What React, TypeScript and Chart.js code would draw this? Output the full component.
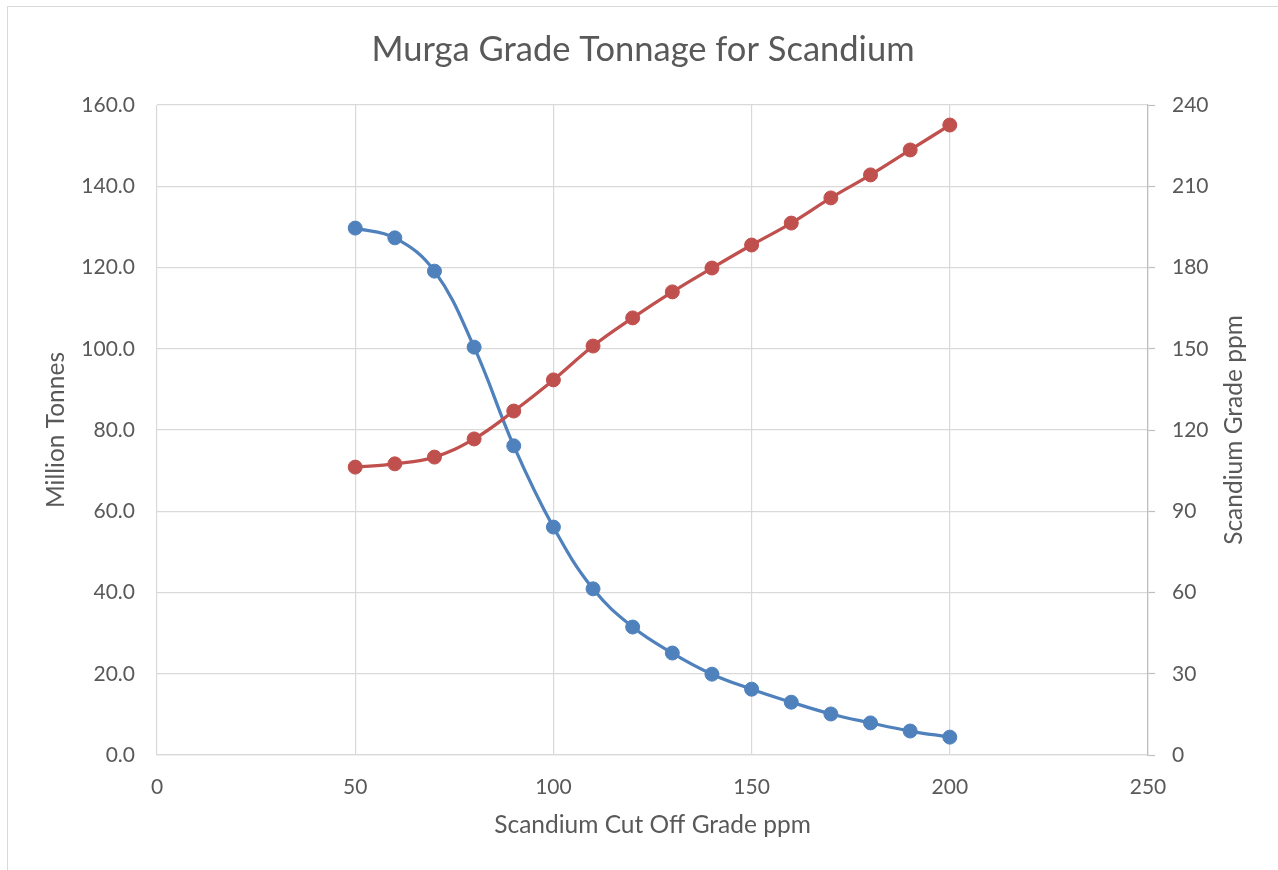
import React, { useEffect, useRef } from "react";
import { Chart, registerables } from "chart.js";

Chart.register(...registerables);

const cutoffGrades = [50, 60, 70, 80, 90, 100, 110, 120, 130, 140, 150, 160, 170, 180, 190, 200];
const millionTonnes = [129.7, 127.3, 119.1, 100.4, 76.1, 56.1, 40.9, 31.5, 25.1, 19.9, 16.2, 13.0, 10.1, 7.9, 5.9, 4.4];
const scandiumGrade = [106.3, 107.5, 110.0, 116.7, 127.0, 138.5, 151.0, 161.4, 171.0, 179.8, 188.3, 196.4, 205.7, 214.2, 223.4, 232.6];

const TEXT = "#595959";
const GRID = "#d9d9d9";
const FONT = "Lato";
const AXIS_TITLE_SIZE = 24.5;
const TICK_SIZE = 21;

const rightTitlePlugin = {
  id: "rightTitle",
  afterDraw(chart: any) {
    const { ctx, chartArea } = chart;
    ctx.save();
    ctx.font = `${AXIS_TITLE_SIZE}px ${FONT}`;
    ctx.fillStyle = TEXT;
    ctx.textAlign = "center";
    ctx.textBaseline = "middle";
    ctx.translate(chartArea.right + 86, (chartArea.top + chartArea.bottom) / 2);
    ctx.rotate(-Math.PI / 2);
    ctx.fillText("Scandium Grade ppm", 0, 0);
    ctx.restore();
  },
};

export default function App() {
  const ref = useRef<HTMLCanvasElement | null>(null);

  useEffect(() => {
    if (!ref.current) return;
    const chart = new Chart(ref.current, {
      type: "line",
      data: {
        datasets: [
          {
            label: "Scandium Grade ppm",
            data: cutoffGrades.map((x, i) => ({ x, y: scandiumGrade[i] })),
            yAxisID: "y1",
            borderColor: "#c0504d",
            backgroundColor: "#c0504d",
            borderWidth: 3.25,
            pointRadius: 7,
            pointBorderWidth: 1,
            pointBorderColor: "#c0504d",
            pointBackgroundColor: "#c0504d",
            tension: 0.4,
          },
          {
            label: "Million Tonnes",
            data: cutoffGrades.map((x, i) => ({ x, y: millionTonnes[i] })),
            yAxisID: "y",
            borderColor: "#4f81bd",
            backgroundColor: "#4f81bd",
            borderWidth: 3.25,
            pointRadius: 7,
            pointBorderWidth: 1,
            pointBorderColor: "#4f81bd",
            pointBackgroundColor: "#4f81bd",
            tension: 0.4,
          },
        ],
      },
      options: {
        animation: false,
        responsive: false,
        layout: { padding: 0 },
        plugins: {
          legend: { display: false },
          tooltip: { enabled: false },
          title: {
            display: true,
            text: "Murga Grade Tonnage for Scandium",
            color: TEXT,
            font: { family: FONT, size: 34.5, weight: "normal", lineHeight: 1.2 },
            padding: { top: 22.3, bottom: 34.3 },
          },
        },
        scales: {
          x: {
            type: "linear",
            position: "bottom",
            min: 0,
            max: 250,
            ticks: {
              stepSize: 50,
              color: TEXT,
              font: { family: FONT, size: TICK_SIZE, lineHeight: 1.2 },
              padding: 19.4,
              maxRotation: 0,
            },
            grid: { color: GRID, lineWidth: 1.2, drawTicks: false },
            border: { color: GRID, width: 1.2 },
            title: {
              display: true,
              text: "Scandium Cut Off Grade ppm",
              color: TEXT,
              font: { family: FONT, size: AXIS_TITLE_SIZE, lineHeight: 1.2 },
              padding: { top: 0, bottom: 30.5 },
            },
            afterFit(scale: any) {
              scale.height = 115;
            },
          },
          y: {
            type: "linear",
            position: "left",
            min: 0,
            max: 160,
            ticks: {
              stepSize: 20,
              color: TEXT,
              font: { family: FONT, size: TICK_SIZE, lineHeight: 1.2 },
              padding: 22,
              callback: (v: any) => Number(v).toFixed(1),
            },
            grid: { color: GRID, lineWidth: 1.2, drawTicks: false },
            border: { display: false },
            title: {
              display: true,
              text: "Million Tonnes",
              color: TEXT,
              font: { family: FONT, size: AXIS_TITLE_SIZE, lineHeight: 1.2 },
              padding: { top: 33.3, bottom: 0 },
            },
            afterFit(scale: any) {
              scale.width = 149;
            },
          },
          y1: {
            type: "linear",
            position: "right",
            min: 0,
            max: 240,
            ticks: {
              stepSize: 30,
              color: TEXT,
              font: { family: FONT, size: TICK_SIZE, lineHeight: 1.2 },
              padding: 17,
            },
            grid: {
              drawOnChartArea: false,
              drawTicks: true,
              tickLength: 7,
              tickColor: "#bfbfbf",
              tickWidth: 1.2,
            },
            border: { color: "#bfbfbf", width: 1.25 },
            afterFit(scale: any) {
              scale.width = 130;
            },
          },
        },
      },
      plugins: [rightTitlePlugin],
    } as any);
    return () => chart.destroy();
  }, []);

  return (
    <div
      style={{
        position: "fixed",
        left: 7,
        top: 6,
        width: 1271,
        height: 864,
        boxSizing: "border-box",
        borderLeft: "1px solid #d9d9d9",
        borderTop: "1px solid #d9d9d9",
        background: "#fff",
      }}
    >
      <canvas ref={ref} width={1270} height={863} style={{ display: "block" }} />
    </div>
  );
}
